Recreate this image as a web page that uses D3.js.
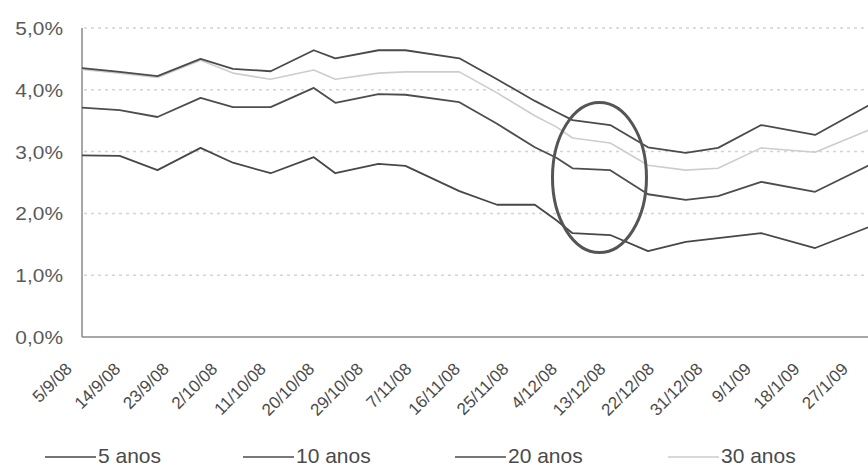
<!DOCTYPE html>
<html>
<head>
<meta charset="utf-8">
<script src="https://cdn.jsdelivr.net/npm/d3@7"></script>
<style>
  body { margin: 0; background: #fff; }
  text { font-family: "Liberation Sans", Arial, sans-serif; }
</style>
</head>
<body>
<div id="chart"></div>
<script>
// data (yields, %)
var dates = ["5/9/08","12/9/08","19/9/08","27/9/08","3/10/08","10/10/08","18/10/08","22/10/08","30/10/08","4/11/08","14/11/08","21/11/08","28/11/08","2/12/08","5/12/08","12/12/08","19/12/08","26/12/08","1/1/09","9/1/09","19/1/09","29/1/09"];
var anos5  = [2.94,2.93,2.70,3.06,2.82,2.65,2.91,2.65,2.80,2.77,2.36,2.14,2.14,1.89,1.68,1.65,1.39,1.54,1.60,1.68,1.44,1.78];
var anos10 = [3.71,3.67,3.56,3.87,3.72,3.72,4.03,3.79,3.93,3.92,3.80,3.45,3.07,2.90,2.73,2.70,2.31,2.22,2.28,2.51,2.35,2.78];
var anos20 = [4.35,4.29,4.22,4.50,4.34,4.30,4.64,4.51,4.64,4.64,4.51,4.17,3.82,3.64,3.51,3.43,3.07,2.98,3.06,3.43,3.27,3.75];
var anos30 = [4.33,4.27,4.20,4.48,4.27,4.17,4.32,4.17,4.27,4.29,4.29,3.95,3.58,3.40,3.22,3.14,2.78,2.70,2.73,3.06,2.99,3.35];
var seriesNames = ["5 anos", "10 anos", "20 anos", "30 anos"];
var tickLabels = ["5/9/08","14/9/08","23/9/08","2/10/08","11/10/08","20/10/08","29/10/08","7/11/08","16/11/08","25/11/08","4/12/08","13/12/08","22/12/08","31/12/08","9/1/09","18/1/09","27/1/09"];
var yTicks = [0, 1, 2, 3, 4, 5];

var W = 868, H = 468;
var parse = d3.timeParse("%d/%m/%y");

var svg = d3.select("#chart").append("svg")
    .attr("width", W)
    .attr("height", H);

// scales
var x = d3.scaleTime()
    .domain([parse("5/9/08"), parse("29/1/09")])
    .range([82, 869]);
var y = d3.scaleLinear()
    .domain([0, 5])
    .range([337, 28]);

var series = [anos5, anos10, anos20, anos30].map(function(vals, i) {
  return {
    name: seriesNames[i],
    values: vals.map(function(v, j) { return {date: parse(dates[j]), value: v}; })
  };
});
var colors = {"5 anos": "#474747", "10 anos": "#4d4d4d", "20 anos": "#4a4a4a", "30 anos": "#cdcdcd"};

// dotted gridlines
svg.append("g")
  .selectAll("line")
  .data(yTicks.filter(function(d) { return d > 0; }))
  .enter().append("line")
    .attr("x1", 84).attr("x2", W)
    .attr("y1", function(d) { return y(d); })
    .attr("y2", function(d) { return y(d); })
    .attr("stroke", "#d4d4d4")
    .attr("stroke-width", 1.5)
    .attr("stroke-dasharray", "3,4");

// y labels (slightly stretched like the scan)
svg.append("g")
  .selectAll("text")
  .data(yTicks)
  .enter().append("text")
    .attr("transform", function(d) { return "translate(63," + (y(d) + 7) + ") scale(1.1,1)"; })
    .attr("text-anchor", "end")
    .attr("fill", "#5a5a5a")
    .style("font-size", "19px")
    .text(function(d) { return d3.format(".1f")(d).replace(".", ",") + "%"; });

// axes lines
svg.append("line")
  .attr("x1", x.range()[0]).attr("x2", x.range()[0])
  .attr("y1", y(5)).attr("y2", y(0))
  .attr("stroke", "#8a8a8a").attr("stroke-width", 1.5);
svg.append("line")
  .attr("x1", x.range()[0]).attr("x2", W)
  .attr("y1", y(0)).attr("y2", y(0))
  .attr("stroke", "#8a8a8a").attr("stroke-width", 1.5);

// x tick labels, rotated
svg.append("g")
  .selectAll("text")
  .data(tickLabels)
  .enter().append("text")
    .attr("transform", function(d) { return "translate(" + (x(parse(d)) - 9) + ",370) rotate(-45)"; })
    .attr("text-anchor", "end")
    .attr("fill", "#4a4a4a")
    .style("font-size", "17px")
    .text(function(d) { return d; });

// lines
var line = d3.line()
  .x(function(d) { return x(d.date); })
  .y(function(d) { return y(d.value); });

svg.append("g")
  .selectAll("path")
  .data(series.slice().reverse())
  .enter().append("path")
    .attr("d", function(d) { return line(d.values); })
    .attr("fill", "none")
    .attr("stroke", function(d) { return colors[d.name]; })
    .attr("stroke-width", function(d) { return d.name == "30 anos" ? 1.6 : 1.8; })
    .attr("stroke-linejoin", "round");

// ellipse annotation
svg.append("ellipse")
  .attr("cx", x(parse("10/12/08")))
  .attr("cy", y(2.58))
  .attr("rx", 47)
  .attr("ry", 75)
  .attr("fill", "none")
  .attr("stroke", "#555")
  .attr("stroke-width", 3);

// legend
var legendX = [45, 243, 455, 668];
var legend = svg.append("g")
  .selectAll("g")
  .data(series)
  .enter().append("g")
    .attr("transform", function(d, i) { return "translate(" + legendX[i] + ",0)"; });
legend.append("line")
  .attr("x1", 0).attr("x2", 51)
  .attr("y1", 457).attr("y2", 457)
  .attr("stroke", function(d) { return colors[d.name]; })
  .attr("stroke-width", 1.6);
legend.append("text")
  .attr("x", 53)
  .attr("y", 463)
  .attr("fill", "#4a4a4a")
  .style("font-size", "21px")
  .text(function(d) { return d.name; });
</script>
</body>
</html>
